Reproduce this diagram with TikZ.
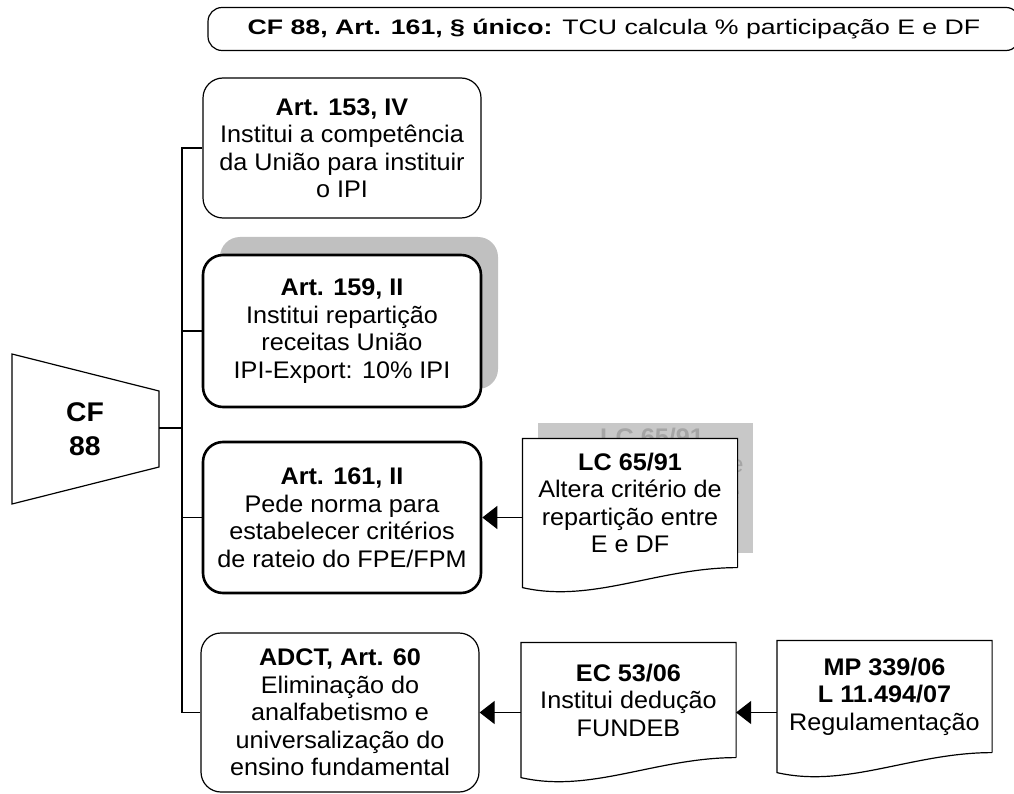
\documentclass[tikz,border=0pt]{standalone}
\usepackage{fontspec}
\setmainfont{Liberation Sans}[FakeStretch=1.05]
\newfontfamily\bannerfont{Liberation Sans}[FakeStretch=1.27]
\usetikzlibrary{arrows.meta,shadows}
\definecolor{shadowgray}{RGB}{192,192,192}
\definecolor{ghostgray}{RGB}{200,200,200}
\definecolor{ghosttext}{RGB}{165,165,165}

\begin{document}
\begin{tikzpicture}[x=1pt,y=-1pt,line width=1.2pt,
>={Triangle[length=15pt,width=23pt]},
every node/.style={font=\fontsize{24}{27.5}\selectfont, align=center, inner sep=0pt},
artbox/.style={draw, rounded corners=20pt, minimum width=278pt, fill=white},
thickbox/.style={artbox, line width=2.6pt},
docbox/.style={fill=white, minimum width=214pt}]
\path[use as bounding box, clip] (0,0) rectangle (1014,794);

% caput
\node[draw, rounded corners=14pt, minimum width=812pt, minimum height=43pt,
  font=\bannerfont\fontsize{21}{24}\selectfont] (cf161) at (614,29)
  {\textbf{CF 88, Art. 161, § único:} TCU calcula \% participação E e DF};

% constituicao
\draw (12,354) -- (159,391) -- (159,467) -- (12,504) -- cycle;
\node[font=\bfseries\fontsize{27}{34}\selectfont] (cf) at (85,429) {CF\\88};
\coordinate (cfout) at (159,428);
\coordinate (bus) at (182,428);

% artigos
\node[artbox, minimum height=140pt] (a153) at (342,148)
  {\textbf{Art. 153, IV}\\Institui a competência\\da União para instituir\\o IPI};
\node[thickbox, minimum height=152pt,
  drop shadow={shadow xshift=17pt, shadow yshift=18pt, fill=shadowgray, opacity=1}]
  (a159) at (342,331)
  {\textbf{Art. 159, II}\\Institui repartição\\receitas União\\IPI-Export: 10\% IPI};
\node[thickbox, minimum height=151pt] (a161) at (342,517.5)
  {\textbf{Art. 161, II}\\Pede norma para\\estabelecer critérios\\de rateio do FPE/FPM};
\node[artbox, minimum height=159pt] (a60) at (340,712.5)
  {\textbf{ADCT, Art. 60}\\Eliminação do\\analfabetismo e\\universalização do\\ensino fundamental};

% normas
\node[fill=ghostgray, minimum width=215pt, minimum height=130pt] (lcsh) at (645.5,488) {};
\node[text=ghosttext] (lcghost) at (652,478)
  {\textbf{LC 65/91}\\Altera critério de\\repartição entre\\E e DF};
\node[docbox, minimum height=128pt] (lc) at (630,503)
  {\textbf{LC 65/91}\\Altera critério de\\repartição entre\\E e DF};
\node[docbox, minimum height=114pt] (ec) at (628.5,700)
  {\textbf{EC 53/06}\\Institui dedução\\FUNDEB};
\node[docbox, minimum height=111pt] (mp) at (884.5,696.5)
  {\textbf{MP 339/06}\\\textbf{L 11.494/07}\\Regulamentação};
\foreach \d in {lc,ec,mp}
  \draw (\d.south east) -- (\d.north east) -- (\d.north west)
    -- ([yshift=-20pt]\d.south west) .. controls +(70,16) and +(-80,0) .. (\d.south east);

% ligacoes
\draw (cfout) -- (bus);
\foreach \a in {a153,a159,a161,a60}
  \draw (\a.west) -| (bus);
\draw[<-] (a161.east) -- (a161.east -| lc.west);
\draw[<-] (a60.east) -- (a60.east -| ec.west);
\draw[<-] (ec.east |- a60.east) -- (mp.west |- a60.east);
\end{tikzpicture}
\end{document}
